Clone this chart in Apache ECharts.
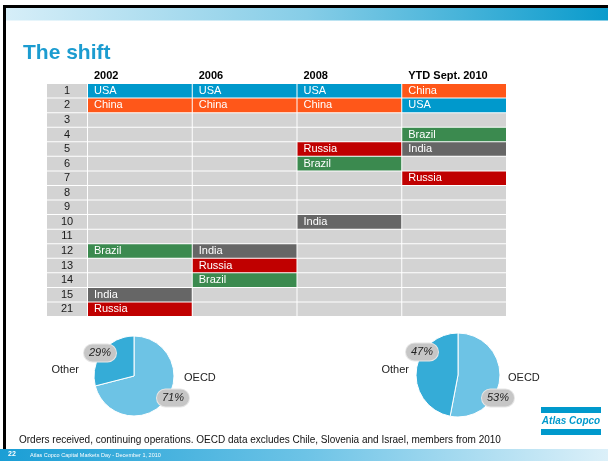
<!DOCTYPE html>
<html>
<head>
<meta charset="utf-8">
<script src="https://cdn.jsdelivr.net/npm/echarts@6/dist/echarts.min.js"></script>
<style>
  html, body { margin: 0; padding: 0; background: #fff; }
  #chart { width: 608px; height: 461px; }
</style>
</head>
<body>
<div id="chart"></div>
<script>
// ranking rows and column headers
const ranks = ['1', '2', '3', '4', '5', '6', '7', '8', '9', '10', '11', '12', '13', '14', '15', '21'];
const years = ['2002', '2006', '2008', 'YTD Sept. 2010'];

// which country sits at each rank, per column ('' = empty cell)
const col2002 = ['USA', 'China', '', '', '', '', '', '', '', '', '', 'Brazil', '', '', 'India', 'Russia'];
const col2006 = ['USA', 'China', '', '', '', '', '', '', '', '', '', 'India', 'Russia', 'Brazil', '', ''];
const col2008 = ['USA', 'China', '', '', 'Russia', 'Brazil', '', '', '', 'India', '', '', '', '', '', ''];
const col2010 = ['China', 'USA', '', 'Brazil', 'India', '', 'Russia', '', '', '', '', '', '', '', '', ''];

// order split, left pie (2002) and right pie (YTD 2010)
const shareNames = ['OECD', 'Other'];
const share2002 = [71, 29];
const share2010 = [53, 47];

const countryColors = {
    USA: '#0099cc',
    China: '#ff5719',
    Russia: '#c00000',
    Brazil: '#3b8a4f',
    India: '#666666'
};
const sliceColors = ['#6dc3e5', '#35acd7'];
const FONT = 'Liberation Sans, Arial, sans-serif';

const columns = [col2002, col2006, col2008, col2010];
const cells = [];
columns.forEach((col, c) => {
    col.forEach((name, r) => {
        cells.push({ value: [c, r], name: name });
    });
});
const rankCells = ranks.map((rk, r) => ({ value: [0, r], name: rk }));

const renderCell = (params, api) => {
    const p = api.coord([api.value(0), api.value(1)]);
    const bw = api.size([1, 0])[0];
    const bh = api.size([0, 1])[1];
    const name = cells[params.dataIndex].name;
    return {
        type: 'group',
        children: [
            {
                type: 'rect',
                shape: { x: p[0], y: p[1] - bh / 2, width: bw - 1, height: bh - 1 },
                style: { fill: name ? countryColors[name] : '#d3d3d3' }
            },
            {
                type: 'text',
                style: {
                    text: name,
                    x: p[0] + 6,
                    y: p[1] - 0.5,
                    verticalAlign: 'middle',
                    fill: '#ffffff',
                    font: '11px ' + FONT
                }
            }
        ]
    };
};

const renderRank = (params, api) => {
    const p = api.coord([api.value(0), api.value(1)]);
    const bw = api.size([1, 0])[0];
    const bh = api.size([0, 1])[1];
    return {
        type: 'group',
        children: [
            {
                type: 'rect',
                shape: { x: p[0], y: p[1] - bh / 2, width: bw - 1, height: bh - 1 },
                style: { fill: '#d3d3d3' }
            },
            {
                type: 'text',
                style: {
                    text: rankCells[params.dataIndex].name,
                    x: p[0] + (bw - 1) / 2,
                    y: p[1] - 0.5,
                    align: 'center',
                    verticalAlign: 'middle',
                    fill: '#1a1a1a',
                    font: '11px ' + FONT
                }
            }
        ]
    };
};

// where the percent bubbles sit for each pie
const bubbleSpots = [
    [[173, 398], [100, 353]],
    [[498, 398], [422, 352]]
];

const makePie = (idx, center, radius, values) => ({
    type: 'pie',
    center: center,
    radius: radius,
    startAngle: 90,
    clockwise: true,
    avoidLabelOverlap: false,
    silent: true,
    data: shareNames.map((n, i) => ({
        name: n,
        value: values[i],
        itemStyle: { color: sliceColors[i] }
    })),
    itemStyle: { borderColor: '#ffffff', borderWidth: 1 },
    label: {
        show: true,
        formatter: '{c}%',
        fontFamily: FONT,
        fontStyle: 'italic',
        fontSize: 11,
        color: '#222222',
        backgroundColor: '#c6c6c6',
        borderColor: '#e6e6e6',
        borderWidth: 1,
        borderRadius: 9,
        padding: [3, 5]
    },
    labelLine: { show: false },
    labelLayout: (params) => {
        const spot = bubbleSpots[idx][params.dataIndex];
        return { x: spot[0], y: spot[1], align: 'center', verticalAlign: 'middle' };
    }
});

const getOption = () => {
    return {
        backgroundColor: '#ffffff',
        animation: false,
        title: {
            text: 'The shift',
            left: 18,
            top: 38,
            textStyle: { fontFamily: FONT, fontSize: 21, fontWeight: 'bold', color: '#1c9cd0' }
        },
        grid: [
            { left: 47, top: 84, width: 41, height: 233 },
            { left: 88, top: 84, width: 419, height: 233 }
        ],
        xAxis: [
            { gridIndex: 0, type: 'value', min: 0, max: 1, show: false },
            {
                gridIndex: 1,
                type: 'value',
                position: 'top',
                min: 0,
                max: 4,
                interval: 1,
                axisLine: { show: false },
                axisTick: { show: false },
                splitLine: { show: false },
                axisLabel: {
                    formatter: (v) => years[v] || '',
                    align: 'left',
                    margin: 3,
                    padding: [0, 0, 0, 6],
                    fontFamily: FONT,
                    fontSize: 11,
                    fontWeight: 'bold',
                    color: '#000000'
                }
            }
        ],
        yAxis: [
            { gridIndex: 0, type: 'category', data: ranks, inverse: true, show: false },
            { gridIndex: 1, type: 'category', data: ranks, inverse: true, show: false }
        ],
        graphic: [
            // slide frame and header / footer bands
            { type: 'rect', left: 3, top: 5, shape: { width: 605, height: 3 }, style: { fill: '#000000' } },
            { type: 'rect', left: 3, top: 5, shape: { width: 3, height: 444 }, style: { fill: '#000000' } },
            {
                type: 'rect', left: 6, top: 8, shape: { width: 602, height: 12.5 },
                style: {
                    fill: new echarts.graphic.LinearGradient(0, 0, 1, 0, [
                        { offset: 0, color: '#d6eef8' },
                        { offset: 0.5, color: '#86cde7' },
                        { offset: 1, color: '#0a9bcc' }
                    ])
                }
            },
            {
                type: 'rect', left: 0, top: 449, shape: { width: 608, height: 12 },
                style: {
                    fill: new echarts.graphic.LinearGradient(0, 0, 1, 0, [
                        { offset: 0, color: '#1a9ed5' },
                        { offset: 0.5, color: '#6cc3e6' },
                        { offset: 1, color: '#dcf0f9' }
                    ])
                }
            },
            { type: 'text', left: 8, top: 451, style: { text: '22', fill: '#ffffff', font: 'bold 7px ' + FONT } },
            { type: 'text', left: 30, top: 452, style: { text: 'Atlas Copco Capital Markets Day - December 1, 2010', fill: '#ffffff', font: '5.5px ' + FONT } },
            // pie captions
            { type: 'text', x: 79, y: 370, style: { text: 'Other', align: 'right', verticalAlign: 'middle', fill: '#222222', font: '11px ' + FONT } },
            { type: 'text', x: 184, y: 378, style: { text: 'OECD', align: 'left', verticalAlign: 'middle', fill: '#222222', font: '11px ' + FONT } },
            { type: 'text', x: 409, y: 370, style: { text: 'Other', align: 'right', verticalAlign: 'middle', fill: '#222222', font: '11px ' + FONT } },
            { type: 'text', x: 508, y: 378, style: { text: 'OECD', align: 'left', verticalAlign: 'middle', fill: '#222222', font: '11px ' + FONT } },
            // logo
            { type: 'rect', left: 541, top: 407, shape: { width: 60, height: 6 }, style: { fill: '#0099cc' } },
            { type: 'rect', left: 541, top: 429, shape: { width: 60, height: 6 }, style: { fill: '#0099cc' } },
            { type: 'text', x: 571, y: 421, style: { text: 'Atlas Copco', align: 'center', verticalAlign: 'middle', fill: '#0099cc', font: 'italic bold 10px ' + FONT } },
            // footnote
            { type: 'text', x: 19, y: 440, style: { text: 'Orders received, continuing operations. OECD data excludes Chile, Slovenia and Israel, members from 2010', verticalAlign: 'middle', fill: '#111111', font: '10px ' + FONT } }
        ],
        series: [
            {
                type: 'custom',
                xAxisIndex: 0,
                yAxisIndex: 0,
                silent: true,
                renderItem: renderRank,
                data: rankCells
            },
            {
                type: 'custom',
                xAxisIndex: 1,
                yAxisIndex: 1,
                silent: true,
                renderItem: renderCell,
                data: cells
            },
            makePie(0, [134, 376], 40, share2002),
            makePie(1, [458, 375], 42, share2010)
        ]
    };
};

const initCharts = () => {
    const chart = echarts.init(document.getElementById('chart'));
    chart.setOption(getOption());
};

window.addEventListener('load', () => {
    initCharts();
});
</script>
</body>
</html>
